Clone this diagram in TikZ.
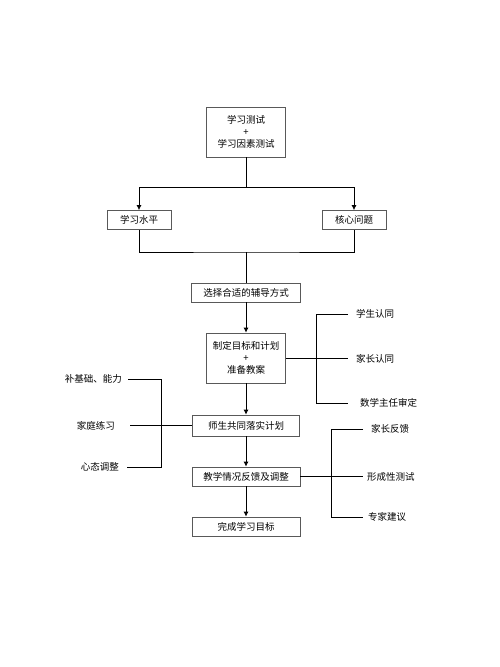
\documentclass[tikz,border=0pt]{standalone}
\usepackage{fontspec}
\setmainfont{Noto Sans CJK SC}
\usetikzlibrary{arrows.meta}
\begin{document}
\begin{tikzpicture}[x=1pt,y=-1pt,
  box/.style={draw=black!65, line width=0.7pt, minimum height=19pt, inner sep=2pt,
              font=\fontsize{9.5}{12}\selectfont, align=center},
  lbl/.style={font=\fontsize{9.5}{12}\selectfont, inner sep=1pt},
  conn/.style={line width=0.8pt},
  arr/.style={conn, -{Latex[length=5pt,width=5pt]}}]
\useasboundingbox[fill=white] (0,0) rectangle (500,667);
% main column
\node[box, minimum width=79pt, minimum height=50pt] (test) at (246,132) {学习测试\\+\\学习因素测试};
\node[box, minimum width=64pt] (level) at (139,220) {学习水平};
\node[box, minimum width=64pt] (core) at (354,220) {核心问题};
\node[box, minimum width=109pt] (choose) at (246,292.5) {选择合适的辅导方式};
\node[box, minimum width=79pt, minimum height=50pt] (plan) at (246,358) {制定目标和计划\\+\\准备教案};
\node[box, minimum width=107pt, minimum height=21pt] (impl) at (246,425.5) {师生共同落实计划};
\node[box, minimum width=108pt] (feed) at (246,476.5) {教学情况反馈及调整};
\node[box, minimum width=108pt] (goal) at (246,526.5) {完成学习目标};
% fork
\coordinate (fork) at (246,187);
\draw[conn] (test.south) -- (fork);
\draw[arr] (fork) -| (level.north);
\draw[arr] (fork) -| (core.north);
% merge
\coordinate (merge) at (246,252);
\draw[conn] (level.south) |- (merge) -| (core.south);
\draw[conn] (merge) -- (choose.north);
% main arrows
\draw[arr] (choose.south) -- (plan.north);
\draw[arr] (plan.south) -- (impl.north);
\draw[arr] (impl.south) -- (feed.north);
\draw[arr] (feed.south) -- (goal.north);
% right bracket 1
\node[lbl, anchor=west] (s1) at (355,314) {学生认同};
\node[lbl, anchor=west] (s2) at (355,359) {家长认同};
\node[lbl, anchor=west] (s3) at (359,403) {数学主任审定};
\coordinate (r1a) at (348,314);
\coordinate (r1b) at (348,358);
\coordinate (r1c) at (348,403);
\draw[conn] (r1a) -- ++(-32,0) |- (r1c);
\draw[conn] (plan.east) -- (r1b);
% left bracket
\node[lbl, anchor=east] (t1) at (123,379) {补基础、能力};
\node[lbl, anchor=east] (t2) at (116,425.5) {家庭练习};
\node[lbl, anchor=east] (t3) at (120,467) {心态调整};
\coordinate (l1a) at (128,379);
\coordinate (l1b) at (130,425.5);
\coordinate (l1c) at (127,467);
\draw[conn] (l1a) -- ++(33,0) |- (l1c);
\draw[conn] (l1b) -- (impl.west);
% right bracket 2
\node[lbl, anchor=west] (u1) at (370,429) {家长反馈};
\node[lbl, anchor=west] (u2) at (366,476.5) {形成性测试};
\node[lbl, anchor=west] (u3) at (367,517) {专家建议};
\coordinate (r2a) at (363,429);
\coordinate (r2b) at (363,476.5);
\coordinate (r2c) at (363,517);
\draw[conn] (r2a) -- ++(-32,0) |- (r2c);
\draw[conn] (feed.east) -- (r2b);
\end{tikzpicture}
\end{document}
